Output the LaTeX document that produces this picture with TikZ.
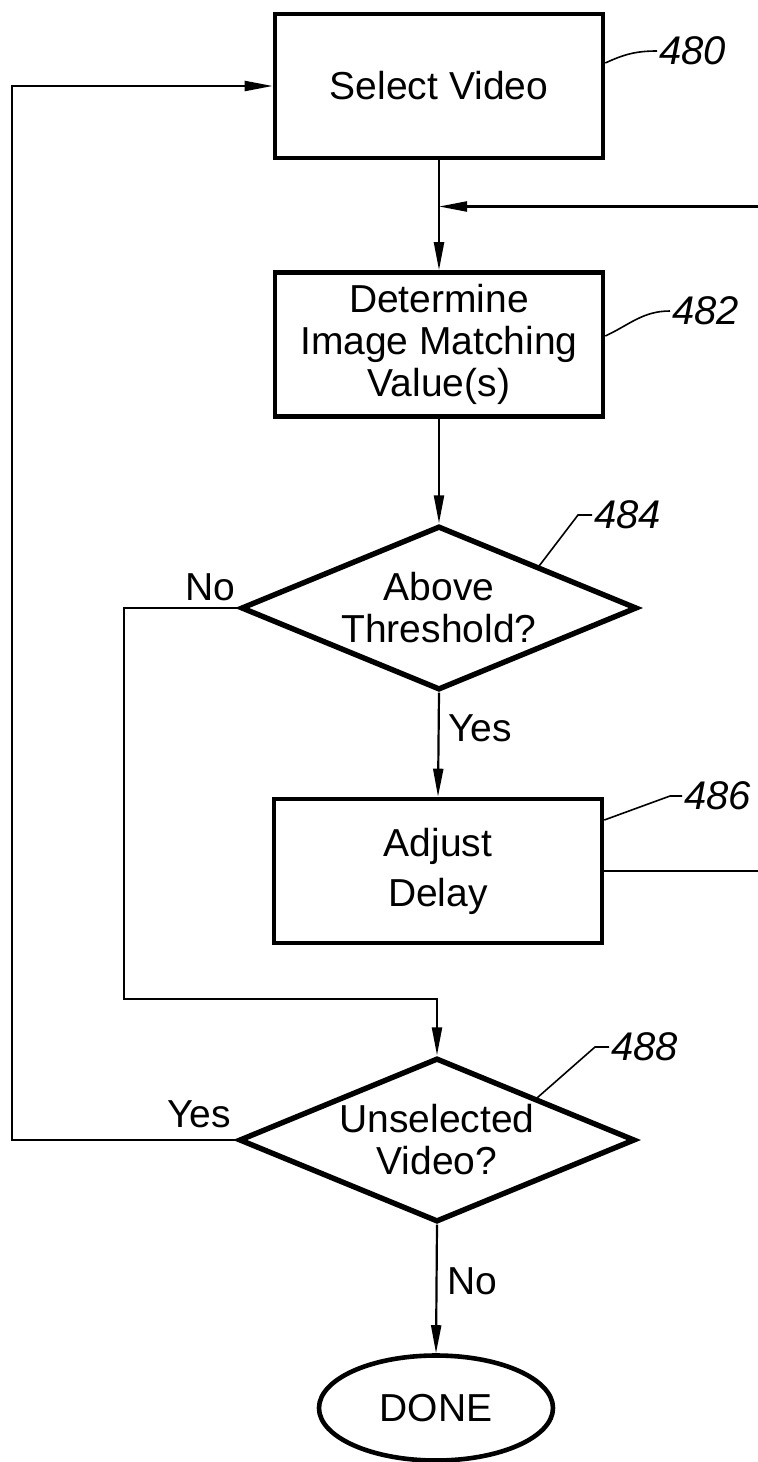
\documentclass[tikz,border=0pt]{standalone}
\usepackage{fontspec}
\setmainfont{Liberation Sans}
\usetikzlibrary{arrows.meta,shapes.geometric}
\begin{document}
\begin{tikzpicture}[x=0.5pt,y=-0.5pt,
    box/.style={draw,line width=2.3pt,minimum width=164pt,minimum height=72pt,inner sep=0pt,align=center},
    dec/.style={draw,diamond,line width=2.7pt,aspect=2.42,minimum width=198pt,minimum height=82pt,inner sep=0pt,align=center},
    flow/.style={line width=1.1pt,-{Triangle[length=14pt,width=5pt]}},
    lead/.style={line width=0.8pt},
    num/.style={font=\fontsize{20}{20}\selectfont\itshape,inner sep=1pt,anchor=west},
    lbl/.style={inner sep=0pt}]
  \fontsize{19.5}{21}\selectfont
  \useasboundingbox (0,0) rectangle (758,1462);
  \node[box] (sel) at (439,86) {Select Video};
  \node[box] (det) at (439,344.5) {Determine\\Image Matching\\Value(s)};
  \node[dec] (thr) at (439,608) {Above\\Threshold?};
  \node[box] (adj) at (438,871) {Adjust\\[4pt]Delay};
  \node[dec] (unsel) at (437,1140) {Unselected\\Video?};
  \node[draw,ellipse,line width=2.3pt,minimum width=117pt,minimum height=52.5pt,inner sep=0pt] (done) at (436,1408) {DONE};
  \node[num] (n480) at (657,51) {480};
  \node[num] (n482) at (670,311) {482};
  \node[num] (n484) at (592,515) {484};
  \node[num] (n486) at (682,796) {486};
  \node[num] (n488) at (609,1047) {488};
  \node[lbl] (no1) at (210,587) {No};
  \node[lbl] (yes1) at (480,728) {Yes};
  \node[lbl] (yes2) at (199,1114) {Yes};
  \node[lbl] (no2) at (472,1281) {No};
  \coordinate (jn) at (439,206.5);
  \coordinate (rt) at (758,206.5);
  \coordinate (nl) at (124,999);
  \coordinate (yl) at (12,600);
  \draw[flow] (sel.south) -- (det.north);
  \draw[flow] (rt) -- (jn);
  \draw[flow] (det.south) -- (thr.north);
  \draw[flow] (thr.south) -- (adj.north);
  \draw[line width=1.1pt] (adj.east) -- (adj.east -| rt);
  \draw[flow] (thr.west) -| (nl) -| (unsel.north);
  \draw[flow] (unsel.west) -| (yl) |- (sel.west);
  \draw[flow] (unsel.south) -- (done.north);
  \draw[lead] ([yshift=11.5pt]sel.east) to[out=25,in=180] (n480.west);
  \draw[lead] ([yshift=4.25pt]det.east) to[out=25,in=180] (n482.west);
  \draw[lead] (thr.north east) -- ([xshift=-7pt]n484.west) -- (n484.west);
  \draw[lead] ([yshift=25.5pt]adj.east) -- ([xshift=-6pt]n486.west) -- (n486.west);
  \draw[lead] (unsel.north east) -- ([xshift=-7pt]n488.west) -- (n488.west);
\end{tikzpicture}
\end{document}
